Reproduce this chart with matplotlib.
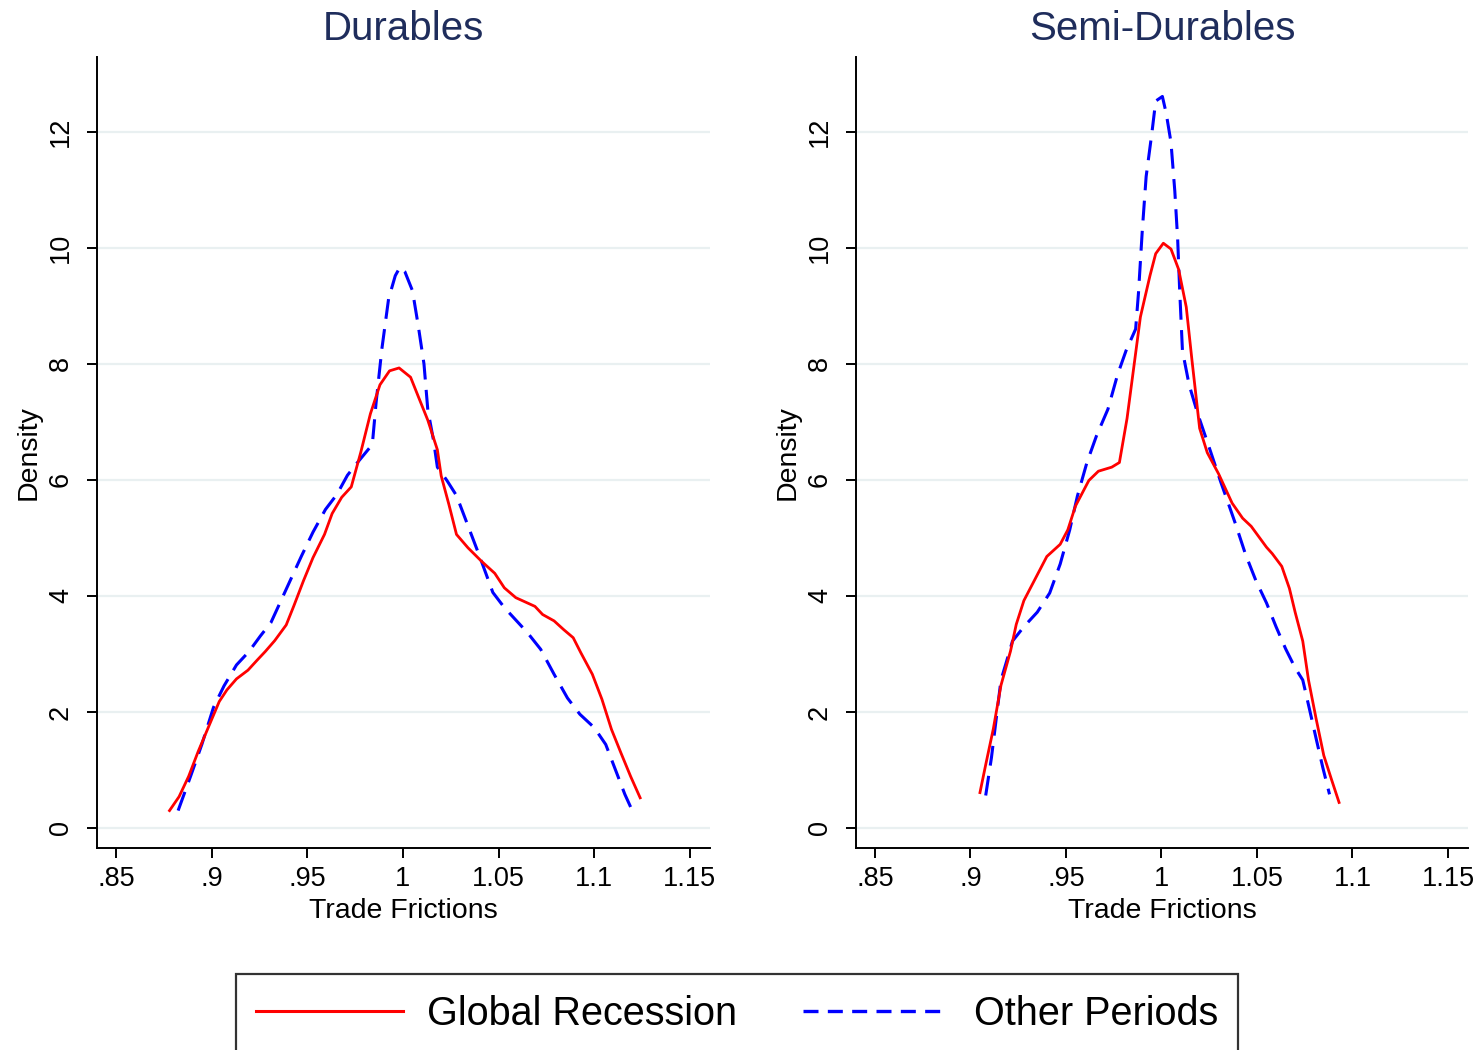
import numpy as np
import matplotlib
matplotlib.use("Agg")
import matplotlib.pyplot as plt
from matplotlib.lines import Line2D

plt.rcParams['font.family'] = ['Liberation Sans', 'DejaVu Sans']

# Durables panel
dur_rec_x = [0.878, 0.883, 0.888, 0.893, 0.899, 0.904, 0.908, 0.913, 0.919, 0.924,
             0.928, 0.933, 0.939, 0.943, 0.948, 0.953, 0.959, 0.963, 0.968, 0.973,
             0.978, 0.983, 0.988, 0.993, 0.998, 1.004, 1.008, 1.013, 1.018, 1.020,
             1.024, 1.028, 1.034, 1.041, 1.048, 1.053, 1.059, 1.069, 1.073, 1.079,
             1.084, 1.089, 1.093, 1.099, 1.104, 1.109, 1.114, 1.119, 1.124]
dur_rec_y = [0.30, 0.54, 0.89, 1.32, 1.79, 2.18, 2.38, 2.57, 2.72, 2.90,
             3.04, 3.23, 3.50, 3.83, 4.26, 4.66, 5.06, 5.42, 5.70, 5.88,
             6.48, 7.14, 7.64, 7.88, 7.93, 7.77, 7.44, 7.03, 6.52, 6.07,
             5.58, 5.06, 4.83, 4.60, 4.39, 4.14, 3.97, 3.82, 3.68, 3.57,
             3.42, 3.28, 3.02, 2.65, 2.22, 1.70, 1.29, 0.89, 0.52]
dur_oth_x = [0.8825, 0.889, 0.895, 0.901, 0.9065, 0.913, 0.9195, 0.9255, 0.931, 0.936,
             0.941, 0.947, 0.953, 0.9595, 0.9655, 0.971, 0.976, 0.984, 0.986, 0.989,
             0.9925, 0.996, 0.9985, 1.001, 1.005, 1.008, 1.011, 1.013, 1.016, 1.018,
             1.023, 1.028, 1.034, 1.040, 1.047, 1.053, 1.065, 1.072, 1.079, 1.086,
             1.0925, 1.100, 1.106, 1.111, 1.116, 1.120]
dur_oth_y = [0.30, 0.89, 1.45, 2.08, 2.45, 2.81, 3.04, 3.31, 3.54, 3.90,
             4.26, 4.69, 5.10, 5.49, 5.75, 6.08, 6.29, 6.61, 7.34, 8.26,
             9.12, 9.52, 9.67, 9.59, 9.26, 8.66, 8.00, 7.21, 6.68, 6.22,
             5.99, 5.73, 5.21, 4.69, 4.06, 3.80, 3.37, 3.08, 2.65, 2.24,
             1.96, 1.73, 1.44, 1.01, 0.58, 0.29]

# Semi-Durables panel
semi_rec_x = [0.905, 0.908, 0.912, 0.916, 0.921, 0.924, 0.928, 0.934, 0.940, 0.947,
              0.951, 0.955, 0.962, 0.967, 0.974, 0.978, 0.982, 0.986, 0.989, 0.994,
              0.997, 1.001, 1.005, 1.009, 1.013, 1.016, 1.020, 1.024, 1.030, 1.037,
              1.0425, 1.047, 1.055, 1.058, 1.063, 1.067, 1.070, 1.074, 1.077, 1.081,
              1.085, 1.089, 1.093]
semi_rec_y = [0.61, 1.09, 1.71, 2.46, 3.05, 3.51, 3.92, 4.30, 4.68, 4.89,
              5.14, 5.55, 5.99, 6.15, 6.22, 6.30, 7.06, 8.06, 8.81, 9.52,
              9.90, 10.08, 9.98, 9.63, 8.98, 8.06, 6.89, 6.47, 6.10, 5.60,
              5.34, 5.20, 4.84, 4.73, 4.51, 4.13, 3.72, 3.22, 2.55, 1.88,
              1.25, 0.84, 0.44]
semi_oth_x = [0.908, 0.911, 0.9135, 0.916, 0.919, 0.922, 0.928, 0.935, 0.9415, 0.947,
              0.952, 0.956, 0.961, 0.966, 0.972, 0.977, 0.9815, 0.9865, 0.988, 0.990,
              0.992, 0.995, 0.997, 1.0005, 1.0025, 1.005, 1.007, 1.0085, 1.0095, 1.011,
              1.012, 1.0145, 1.019, 1.025, 1.031, 1.0355, 1.039, 1.044, 1.0495, 1.055,
              1.060, 1.065, 1.070, 1.074, 1.0775, 1.081, 1.0845, 1.088]
semi_oth_y = [0.56, 1.21, 1.88, 2.55, 2.88, 3.22, 3.47, 3.72, 4.05, 4.55,
              5.14, 5.72, 6.30, 6.76, 7.22, 7.81, 8.23, 8.60, 9.23, 10.31,
              11.23, 11.98, 12.53, 12.61, 12.32, 11.82, 10.98, 10.15, 9.31, 8.23,
              8.06, 7.64, 7.14, 6.56, 5.97, 5.55, 5.22, 4.72, 4.26, 3.88,
              3.47, 3.09, 2.76, 2.55, 2.05, 1.54, 1.04, 0.58]

titles = ['Durables', 'Semi-Durables']
x_ticks = [0.85, 0.9, 0.95, 1.0, 1.05, 1.1, 1.15]
x_ticklabels = ['.85', '.9', '.95', '1', '1.05', '1.1', '1.15']
y_ticks = [0, 2, 4, 6, 8, 10, 12]
series_labels = ['Global Recession', 'Other Periods']

red = '#ff0000'
blue = '#0000ff'

fig = plt.figure(figsize=(14.84, 10.5), dpi=100)
W, H = 1484, 1050
ax_boxes = [(97, 57, 710, 848), (856, 57, 1468, 848)]
panels = [(dur_rec_x, dur_rec_y, dur_oth_x, dur_oth_y),
          (semi_rec_x, semi_rec_y, semi_oth_x, semi_oth_y)]

for (l, t, r, b), title, (rx, ry, ox, oy) in zip(ax_boxes, titles, panels):
    ax = fig.add_axes([l / W, 1 - b / H, (r - l) / W, (b - t) / H])
    ax.plot(ox, oy, color=blue, lw=2.2, dashes=(6.5, 3.4), zorder=3)
    ax.plot(rx, ry, color=red, lw=2.0, zorder=4)
    ax.set_xlim(0.8401, 1.1605)
    ax.set_ylim(-0.345, 13.29)
    ax.set_xticks(x_ticks)
    ax.set_xticklabels(x_ticklabels)
    ax.set_yticks(y_ticks)
    ax.grid(axis='y', color='#e9f0f1', lw=1.6)
    ax.set_axisbelow(True)
    for s in ['top', 'right']:
        ax.spines[s].set_visible(False)
    for s in ['left', 'bottom']:
        ax.spines[s].set_linewidth(1.4)
    ax.tick_params(axis='both', direction='out', length=7, width=1.4,
                   labelsize=19.5, pad=6)
    ax.tick_params(axis='y', labelrotation=90, pad=9.5)
    for lab in ax.get_yticklabels():
        lab.set_va('center')
    ax.set_xlabel('Trade Frictions', fontsize=20.5, labelpad=4)
    ax.set_ylabel('Density', fontsize=20.5, labelpad=5)
    ax.set_title(title, fontsize=29, color='#1f2d5c', pad=12)

handles = [Line2D([], [], color=red, lw=2.2),
           Line2D([], [], color=blue, lw=2.4, dashes=(4.5, 2.8))]
leg = fig.legend(handles, series_labels, loc='center',
                 bbox_to_anchor=(737 / W, 1 - 1014 / H), ncol=2,
                 fontsize=28.5, frameon=True, fancybox=False, edgecolor='black',
                 handlelength=3.7, handletextpad=0.62, columnspacing=1.65,
                 borderpad=0.52, borderaxespad=0)
leg.get_frame().set_linewidth(1.6)

fig.savefig('out.png', dpi=100, facecolor='white')
